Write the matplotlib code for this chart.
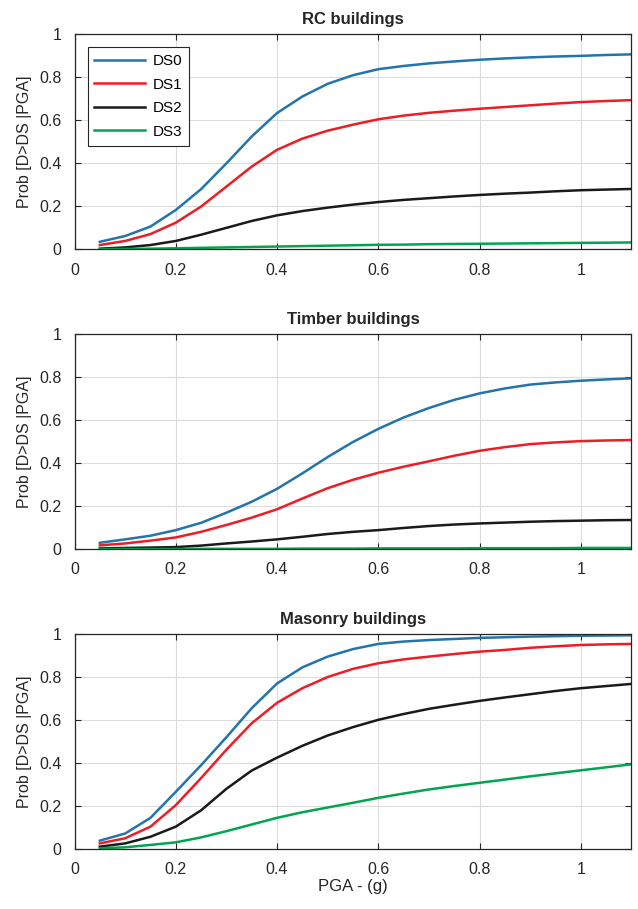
import numpy as np
import matplotlib
matplotlib.use("Agg")
import matplotlib.pyplot as plt

plt.rcParams['font.family'] = ['Liberation Sans', 'DejaVu Sans']

# PGA values (g) at which the curves were read
pga = [0.05, 0.10, 0.15, 0.20, 0.25, 0.30, 0.35, 0.40, 0.45, 0.50, 0.55,
       0.60, 0.65, 0.70, 0.75, 0.80, 0.85, 0.90, 0.95, 1.00, 1.05, 1.10]

rc_ds0 = [0.035, 0.062, 0.106, 0.183, 0.280, 0.400, 0.525, 0.634, 0.711, 0.770, 0.810,
          0.838, 0.853, 0.865, 0.874, 0.882, 0.888, 0.893, 0.897, 0.900, 0.904, 0.907]
rc_ds1 = [0.020, 0.039, 0.071, 0.124, 0.199, 0.292, 0.385, 0.463, 0.515, 0.552, 0.580,
          0.605, 0.622, 0.635, 0.645, 0.654, 0.662, 0.670, 0.678, 0.685, 0.690, 0.694]
rc_ds2 = [0.003, 0.009, 0.020, 0.039, 0.068, 0.100, 0.132, 0.158, 0.178, 0.194, 0.208,
          0.220, 0.230, 0.238, 0.246, 0.253, 0.259, 0.264, 0.270, 0.275, 0.278, 0.281]
rc_ds3 = [0.001, 0.002, 0.003, 0.005, 0.007, 0.009, 0.011, 0.013, 0.015, 0.017, 0.019,
          0.021, 0.022, 0.024, 0.025, 0.026, 0.027, 0.028, 0.029, 0.030, 0.031, 0.032]

tim_ds0 = [0.029, 0.045, 0.062, 0.088, 0.122, 0.169, 0.220, 0.280, 0.352, 0.428, 0.498,
           0.559, 0.612, 0.656, 0.694, 0.724, 0.747, 0.765, 0.775, 0.783, 0.789, 0.794]
tim_ds1 = [0.017, 0.026, 0.039, 0.054, 0.080, 0.112, 0.146, 0.185, 0.235, 0.283, 0.322,
           0.355, 0.383, 0.408, 0.434, 0.457, 0.474, 0.488, 0.496, 0.502, 0.505, 0.507]
tim_ds2 = [0.003, 0.005, 0.007, 0.009, 0.016, 0.026, 0.035, 0.045, 0.057, 0.070, 0.080,
           0.088, 0.098, 0.107, 0.114, 0.119, 0.123, 0.127, 0.130, 0.132, 0.134, 0.135]
tim_ds3 = [0.000, 0.000, 0.000, 0.000, 0.001, 0.001, 0.001, 0.001, 0.002, 0.002, 0.002,
           0.003, 0.003, 0.003, 0.003, 0.004, 0.004, 0.004, 0.004, 0.005, 0.005, 0.005]

mas_ds0 = [0.039, 0.072, 0.145, 0.266, 0.390, 0.520, 0.655, 0.770, 0.845, 0.895, 0.930,
           0.954, 0.965, 0.972, 0.977, 0.982, 0.985, 0.988, 0.990, 0.992, 0.993, 0.994]
mas_ds1 = [0.026, 0.050, 0.104, 0.204, 0.330, 0.462, 0.585, 0.680, 0.748, 0.800, 0.838,
           0.864, 0.882, 0.895, 0.907, 0.918, 0.926, 0.936, 0.943, 0.949, 0.952, 0.954]
mas_ds2 = [0.011, 0.026, 0.057, 0.104, 0.180, 0.280, 0.365, 0.425, 0.480, 0.528, 0.567,
           0.601, 0.628, 0.652, 0.671, 0.689, 0.705, 0.720, 0.735, 0.748, 0.758, 0.768]
mas_ds3 = [0.003, 0.008, 0.019, 0.031, 0.054, 0.083, 0.114, 0.145, 0.171, 0.193, 0.215,
           0.238, 0.258, 0.277, 0.293, 0.308, 0.323, 0.338, 0.352, 0.366, 0.380, 0.394]

titles = ['RC buildings', 'Timber buildings', 'Masonry buildings']
ds_names = ['DS0', 'DS1', 'DS2', 'DS3']
ds_colours = ['#2274ab', '#ee1c25', '#1a1a1a', '#00a54f']

panels = [[rc_ds0, rc_ds1, rc_ds2, rc_ds3],
          [tim_ds0, tim_ds1, tim_ds2, tim_ds3],
          [mas_ds0, mas_ds1, mas_ds2, mas_ds3]]

fig = plt.figure(figsize=(6.38, 9.09), dpi=100)
bottoms = [0.7257, 0.396, 0.066]
height = 0.2365

for k in range(3):
    ax = fig.add_axes([0.1168, bottoms[k], 0.873, height])
    for curve, name, colour in zip(panels[k], ds_names, ds_colours):
        ax.plot(pga, curve, color=colour, lw=1.8, label=name,
                solid_joinstyle='round')
    ax.set_xlim(0, 1.1)
    ax.set_ylim(0, 1)
    ax.set_xticks([0, 0.2, 0.4, 0.6, 0.8, 1.0])
    ax.set_xticklabels(['0', '0.2', '0.4', '0.6', '0.8', '1'])
    ax.set_yticks([0, 0.2, 0.4, 0.6, 0.8, 1.0])
    ax.set_yticklabels(['0', '0.2', '0.4', '0.6', '0.8', '1'])
    ax.grid(True, color='#dcdcdc', lw=0.8)
    ax.set_axisbelow(True)
    ax.tick_params(direction='in', top=True, right=True, labelsize=11.5,
                   length=4, color='#262626', labelcolor='#262626', pad=9.5)
    for sp in ax.spines.values():
        sp.set_color('#262626')
        sp.set_linewidth(0.9)
    ax.set_ylabel('Prob [D>DS |PGA]', fontsize=11.5, color='#262626', labelpad=5)
    ax.set_title(titles[k], fontsize=12, fontweight='bold', color='#262626', pad=7.5)
    if k == 0:
        leg = ax.legend(loc='upper left', fontsize=11, fancybox=False,
                        edgecolor='#262626', framealpha=1, borderaxespad=0.85,
                        handlelength=3.3, labelspacing=0.62, borderpad=0.45,
                        handletextpad=0.5)
        leg.get_frame().set_linewidth(0.8)
    if k == 2:
        ax.set_xlabel('PGA - (g)', fontsize=12, color='#262626', labelpad=1)

fig.savefig('out.png', dpi=100)
